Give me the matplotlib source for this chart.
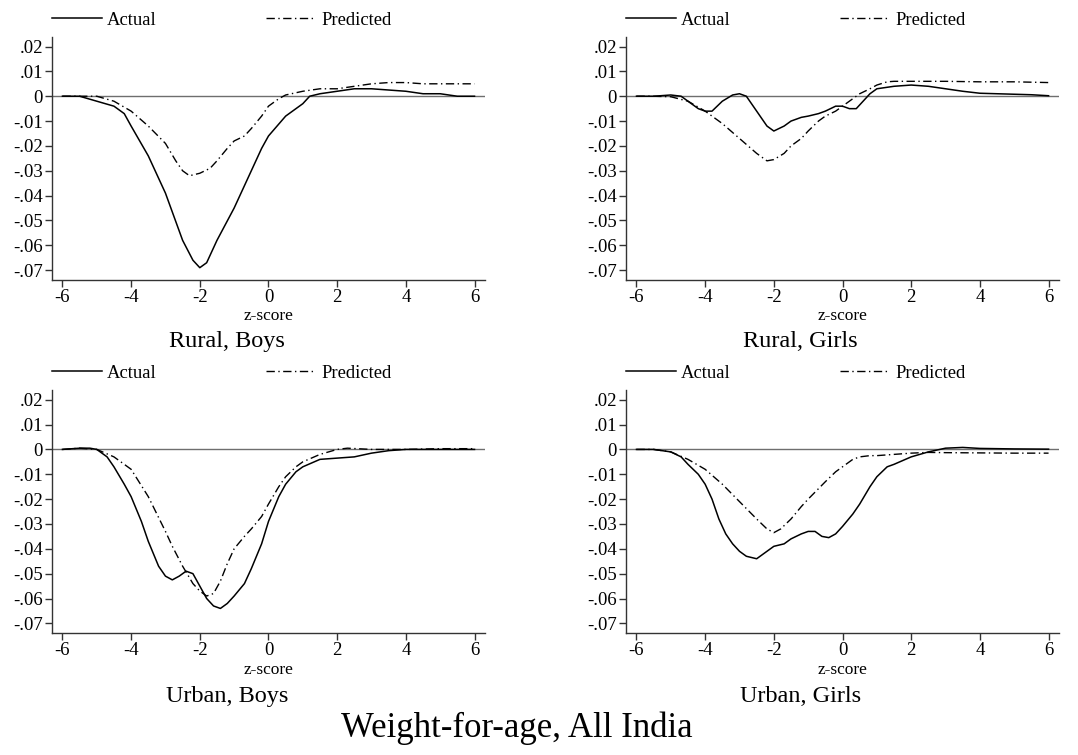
import numpy as np
import matplotlib
matplotlib.use("Agg")
import matplotlib.pyplot as plt

plt.rcParams['font.family'] = ['Liberation Serif', 'DejaVu Serif']
plt.rcParams['axes.unicode_minus'] = False

# ---- data ----
# Rural, Boys
rb_x_act = [-6, -5.5, -5, -4.5, -4.2, -4, -3.5, -3, -2.5, -2.2, -2, -1.8, -1.5, -1, -0.5,
            -0.2, 0, 0.5, 1, 1.2, 1.5, 2, 2.5, 3, 3.5, 4, 4.5, 5, 5.5, 6]
rb_y_act = [0, 0, -0.002, -0.004, -0.007, -0.012, -0.024, -0.039, -0.058, -0.066, -0.069,
            -0.067, -0.058, -0.045, -0.030, -0.021, -0.016, -0.008, -0.003, 0, 0.001, 0.002,
            0.003, 0.003, 0.0025, 0.002, 0.001, 0.001, 0, 0]
rb_x_pred = [-6, -5.5, -5, -4.5, -4, -3.5, -3, -2.7, -2.5, -2.3, -2, -1.7, -1.5, -1.2, -1,
             -0.7, -0.5, -0.2, 0, 0.3, 0.5, 1, 1.5, 2, 2.5, 3, 3.5, 4, 4.5, 5, 6]
rb_y_pred = [0, 0, 0, -0.002, -0.006, -0.012, -0.019, -0.026, -0.030, -0.032, -0.031,
             -0.029, -0.026, -0.021, -0.018, -0.016, -0.013, -0.008, -0.004, -0.001, 0.0005,
             0.002, 0.003, 0.003, 0.004, 0.005, 0.0055, 0.0055, 0.005, 0.005, 0.005]

# Rural, Girls
rg_x_act = [-6, -5.5, -5, -4.7, -4.5, -4.2, -4, -3.8, -3.5, -3.2, -3, -2.8, -2.5, -2.2, -2,
            -1.7, -1.5, -1.2, -1, -0.7, -0.5, -0.2, 0, 0.2, 0.4, 0.6, 0.8, 1, 1.5, 2, 2.5,
            3, 3.5, 4, 4.5, 5, 5.5, 6]
rg_y_act = [0, 0, 0.0005, 0, -0.002, -0.005, -0.006, -0.006, -0.002, 0.0005, 0.001, 0,
            -0.006, -0.012, -0.014, -0.012, -0.010, -0.0085, -0.008, -0.007, -0.006, -0.004,
            -0.004, -0.005, -0.005, -0.002, 0.001, 0.003, 0.004, 0.0045, 0.004, 0.003, 0.002,
            0.0012, 0.001, 0.0008, 0.0006, 0.0002]
rg_x_pred = [-6, -5.5, -5, -4.5, -4, -3.5, -3, -2.5, -2.2, -2, -1.7, -1.5, -1.2, -1, -0.7,
             -0.5, -0.2, 0, 0.3, 0.5, 0.8, 1, 1.3, 1.5, 2, 3, 4, 5, 6]
rg_y_pred = [0, 0, -0.0002, -0.002, -0.006, -0.011, -0.017, -0.023, -0.026, -0.0255,
             -0.023, -0.020, -0.017, -0.014, -0.010, -0.008, -0.006, -0.004, -0.001, 0.001,
             0.003, 0.0045, 0.0058, 0.006, 0.006, 0.006, 0.0058, 0.0058, 0.0055]

# Urban, Boys
ub_x_act = [-6, -5.5, -5.2, -5, -4.7, -4.5, -4.2, -4, -3.7, -3.5, -3.2, -3, -2.8, -2.6, -2.4,
            -2.2, -2, -1.8, -1.6, -1.4, -1.2, -1, -0.7, -0.5, -0.2, 0, 0.3, 0.5, 0.8, 1, 1.5,
            2, 2.5, 3, 3.5, 4, 5, 6]
ub_y_act = [0, 0.0005, 0.0005, 0, -0.003, -0.007, -0.014, -0.019, -0.029, -0.037, -0.047,
            -0.051, -0.0525, -0.051, -0.049, -0.050, -0.055, -0.060, -0.063, -0.064, -0.062,
            -0.059, -0.054, -0.048, -0.038, -0.029, -0.019, -0.014, -0.009, -0.007, -0.004,
            -0.0035, -0.003, -0.0015, -0.0005, 0, 0, 0]
ub_x_pred = [-6, -5.5, -5, -4.5, -4, -3.5, -3, -2.8, -2.5, -2.2, -2, -1.8, -1.6, -1.4, -1.2,
             -1, -0.7, -0.5, -0.2, 0, 0.3, 0.5, 0.8, 1, 1.5, 2, 2.3, 3, 4, 5, 6]
ub_y_pred = [0, 0.0005, 0, -0.003, -0.008, -0.019, -0.033, -0.039, -0.047, -0.054, -0.057,
             -0.059, -0.058, -0.053, -0.046, -0.040, -0.035, -0.032, -0.027, -0.022, -0.015,
             -0.011, -0.007, -0.005, -0.002, 0, 0.0005, 0, 0, 0.0003, 0.0003]

# Urban, Girls
ug_x_act = [-6, -5.5, -5, -4.7, -4.5, -4.2, -4, -3.8, -3.6, -3.4, -3.2, -3, -2.8, -2.5, -2.2,
            -2, -1.7, -1.5, -1.2, -1, -0.8, -0.6, -0.4, -0.2, 0, 0.3, 0.5, 0.8, 1, 1.3, 1.5,
            2, 2.5, 3, 3.5, 4, 5, 6]
ug_y_act = [0, 0, -0.001, -0.003, -0.006, -0.010, -0.014, -0.020, -0.028, -0.034, -0.038,
            -0.041, -0.043, -0.044, -0.041, -0.039, -0.038, -0.036, -0.034, -0.033, -0.033,
            -0.035, -0.0355, -0.034, -0.031, -0.026, -0.022, -0.015, -0.011, -0.007, -0.006,
            -0.003, -0.001, 0.0005, 0.0008, 0.0004, 0.0002, 0.0001]
ug_x_pred = [-6, -5.5, -5, -4.5, -4, -3.5, -3, -2.5, -2.2, -2, -1.8, -1.5, -1.2, -1, -0.5,
             -0.2, 0, 0.3, 0.5, 0.8, 1, 1.5, 2, 2.5, 3, 4, 5, 6]
ug_y_pred = [0, 0, -0.001, -0.004, -0.008, -0.014, -0.021, -0.028, -0.032, -0.0335, -0.032,
             -0.028, -0.023, -0.020, -0.013, -0.009, -0.007, -0.004, -0.003, -0.0025, -0.0025,
             -0.002, -0.0015, -0.0012, -0.0013, -0.0014, -0.0015, -0.0015]

panel_titles = ["Rural, Boys", "Rural, Girls", "Urban, Boys", "Urban, Girls"]
xticks = [-6, -4, -2, 0, 2, 4, 6]
yticks = [0.02, 0.01, 0, -0.01, -0.02, -0.03, -0.04, -0.05, -0.06, -0.07]
ytick_labels = [".02", ".01", "0", "-.01", "-.02", "-.03", "-.04", "-.05", "-.06", "-.07"]

panels = [
    (rb_x_act, rb_y_act, rb_x_pred, rb_y_pred),
    (rg_x_act, rg_y_act, rg_x_pred, rg_y_pred),
    (ub_x_act, ub_y_act, ub_x_pred, ub_y_pred),
    (ug_x_act, ug_y_act, ug_x_pred, ug_y_pred),
]

fig = plt.figure(figsize=(10.78, 7.55), dpi=100)

lefts = [0.0482, 0.5807]
bottoms = [0.629, 0.1612]
w, h = 0.4017, 0.3222
# subtitle / z-score label positions (figure coords, baselines)
sub_x = [0.2106, 0.7425]
zlab_y = [0.5762, 0.1070]
sub_y = [0.5404, 0.0702]

pred_style = (0, (6, 2.5, 1, 2.5))

for i, (xa, ya, xp, yp) in enumerate(panels):
    r, c = divmod(i, 2)
    ax = fig.add_axes([lefts[c], bottoms[r], w, h])
    ax.axhline(0, color='#6e6e6e', lw=1.0, zorder=1)
    ax.plot(xa, ya, color='black', lw=1.1, label='Actual', zorder=3)
    ax.plot(xp, yp, color='black', lw=1.0, linestyle=pred_style, label='Predicted', zorder=2)
    ax.set_xlim(-6.305, 6.305)
    ax.set_ylim(-0.074, 0.0239)
    ax.set_xticks(xticks)
    ax.set_xticklabels([str(t) for t in xticks])
    ax.set_yticks(yticks)
    ax.set_yticklabels(ytick_labels)
    for s in ['top', 'right']:
        ax.spines[s].set_visible(False)
    for s in ['left', 'bottom']:
        ax.spines[s].set_color('#333333')
        ax.spines[s].set_linewidth(1.0)
    ax.tick_params(direction='out', length=5, width=1.0, color='#333333',
                   labelsize=13.5, pad=1.5)
    ax.legend(loc='lower left', bbox_to_anchor=(0.0, 1.033), ncol=2, frameon=False,
              fontsize=13.4, handlelength=2.7, handletextpad=0.27, columnspacing=5.85,
              borderpad=0.0, borderaxespad=0.0)
    ax_center = lefts[c] + w * 0.5
    fig.text(ax_center, zlab_y[r], "z-score", ha='center', va='baseline', fontsize=12.5)
    fig.text(sub_x[c], sub_y[r], panel_titles[i], ha='center', va='baseline', fontsize=17.5)

fig.text(0.479, 0.0238, "Weight-for-age, All India", ha='center', va='baseline', fontsize=25)

fig.savefig("out.png", dpi=100)
